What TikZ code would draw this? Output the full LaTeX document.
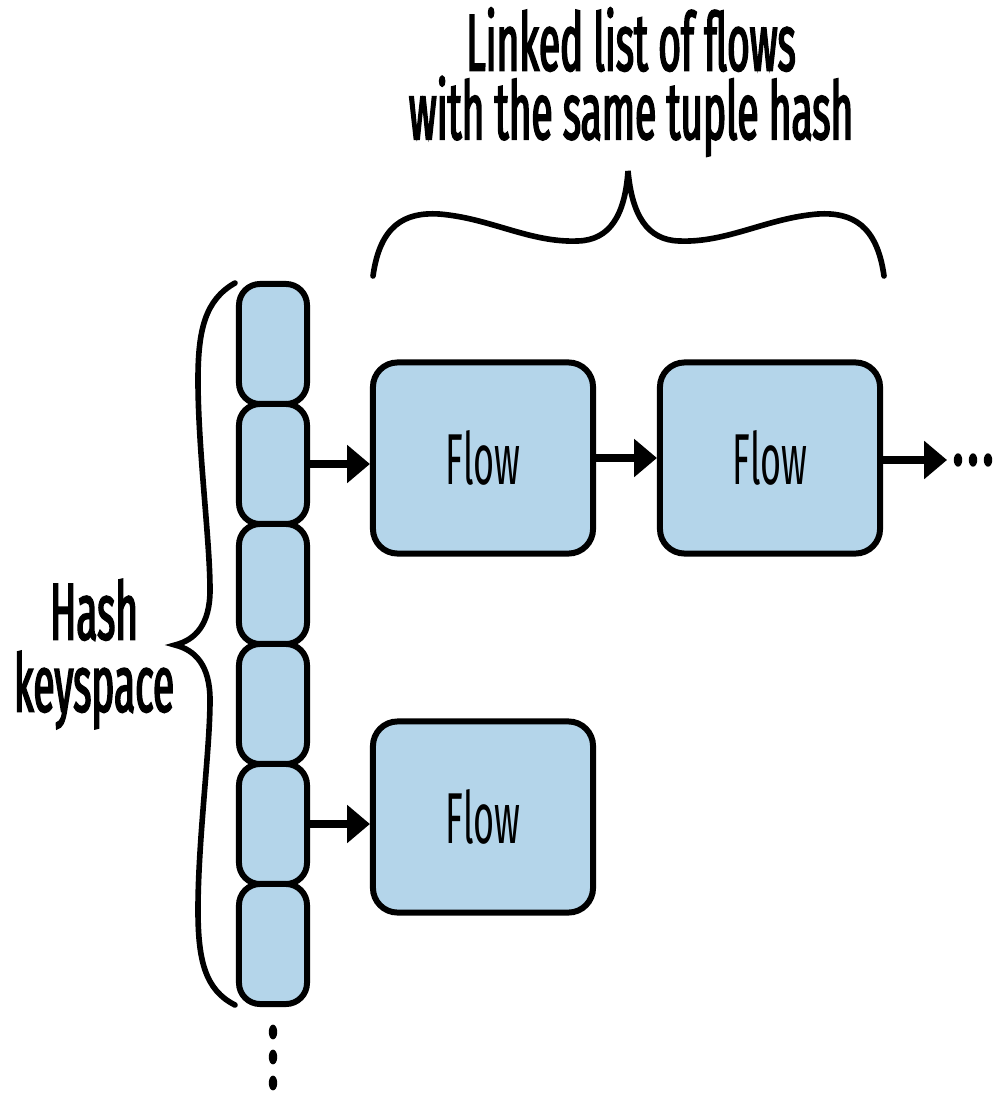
\documentclass[tikz,border=0pt]{standalone}
\usepackage{fontspec}
\setmainfont{Fira Sans}[FakeStretch=0.5]
\newfontfamily\labelfont{Fira Sans}[FakeStretch=0.48, FakeBold=2]
\usetikzlibrary{arrows.meta}
\definecolor{slotblue}{HTML}{B4D5EA}

\begin{document}
\begin{tikzpicture}[x=0.01cm, y=-0.01cm, >={Triangle[length=6.5pt,width=10.5pt]},
  slot/.style={draw, line width=1.7pt, fill=slotblue, rounded corners=6pt,
    minimum width=0.68cm, minimum height=1.2cm, inner sep=0pt},
  flow/.style={draw, line width=1.7pt, fill=slotblue, rounded corners=7pt,
    minimum width=2.2cm, minimum height=1.91cm, font=\fontsize{20.5}{24}\selectfont},
  link/.style={line width=2.2pt, ->},
  brace/.style={line width=1.6pt, line cap=round},
  label/.style={align=center, font=\labelfont\fontsize{23}{20.5}\selectfont}]
  \useasboundingbox (0,0) rectangle (999,1094);

  % hash keyspace
  \foreach \i in {0,1,...,5}
    \node[slot] (s\i) at (273, 344+120*\i) {};
  \foreach \j in {1032,1057,1083}
    \fill (273,\j) ellipse [x radius=1.2pt, y radius=2.1pt];

  \node[flow] (f1) at (483, 458) {Flow};
  \node[flow] (f2) at (770, 458) {Flow};
  \node[flow] (f3) at (483, 817) {Flow};
  \coordinate (more) at (947, 460);

  \draw[link] (s1.east) -- (s1.east -| f1.west);
  \draw[link] (f1) -- (f2);
  \draw[link] (f2.east |- more) -- (more);
  \draw[link] (s4.east) -- (s4.east -| f3.west);
  \foreach \k in {958,973,988}
    \fill (\k,460) ellipse [x radius=1.2pt, y radius=1.9pt];

  % braces
  \draw[brace] (373,276) .. controls (380,225) and (405,212) .. (439,214)
    .. controls (490,218) and (530,243) .. (578,241)
    .. controls (610,240) and (625,215) .. (628,171)
    .. controls (632,215) and (647,240) .. (679,241)
    .. controls (727,243) and (767,218) .. (818,214)
    .. controls (852,212) and (877,225) .. (884,276);
  \draw[brace] (235,283) .. controls (205,300) and (198,330) .. (198,380)
    .. controls (198,450) and (210,540) .. (210,590)
    .. controls (210,625) and (195,640) .. (175,645)
    .. controls (195,650) and (210,665) .. (210,700)
    .. controls (210,750) and (198,840) .. (198,910)
    .. controls (198,960) and (205,990) .. (235,1005);

  \node[label] (title) at (631, 82)
    {Linked list of flows\\[-1pt]with the same tuple hash};
  \node[label] (keys) at (94, 654) {Hash\\keyspace};
\end{tikzpicture}
\end{document}
